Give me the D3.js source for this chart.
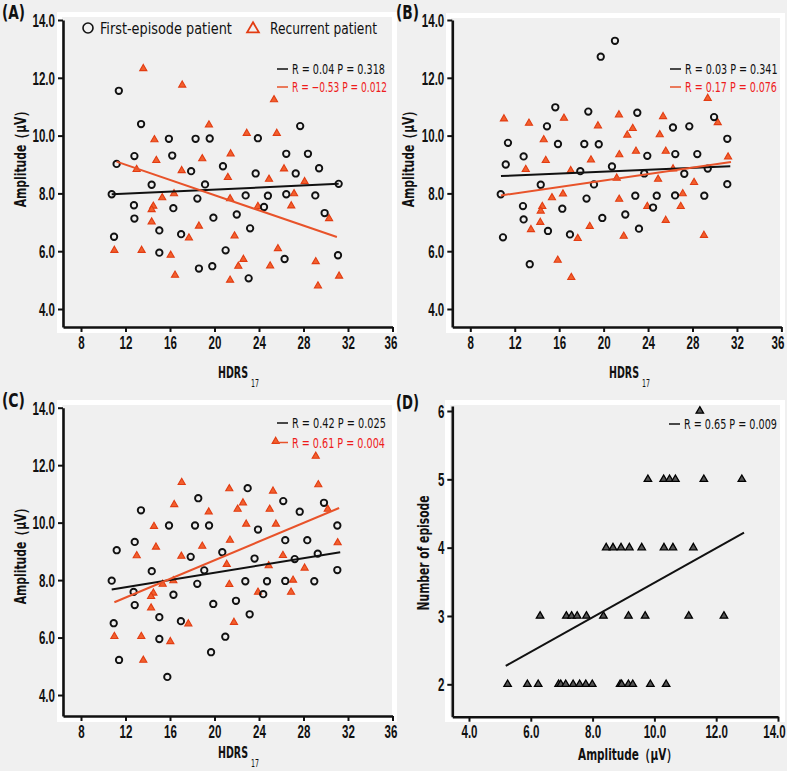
<!DOCTYPE html>
<html><head><meta charset="utf-8">
<script src="https://cdn.jsdelivr.net/npm/d3@7"></script>
<style>
body{margin:0;background:#f0f0f0;}
svg{display:block;font-family:"Liberation Sans Narrow","Arial Narrow","DejaVu Sans Condensed","DejaVu Sans",sans-serif;}
</style></head><body><svg id="c" width="787" height="771"></svg>
<script>
// ---------- data ----------
const hdrsTicks = [8, 12, 16, 20, 24, 28, 32, 36];
const ampTicks = [4, 6, 8, 10, 12, 14];
const ampTicksD = [4, 6, 8, 10, 12, 14];
const episodeTicks = [2, 3, 4, 5, 6];
const legendLabels = ["First-episode patient", "Recurrent patient"];

// Panel A: HDRS17 vs amplitude
const aFirst = [[11.4,11.55],[13.4,10.4],[15.9,9.89],[18.3,9.89],[12.8,9.29],[16.2,9.31],[11.2,9.02],[17.9,8.77],[14.35,8.3],[10.76,7.97],[27.7,10.33],[19.57,9.9],[23.9,9.91],[26.45,9.37],[28.4,9.37],[20.76,8.94],[23.7,8.69],[27.3,8.69],[29.4,8.87],[19.15,8.31],[31.16,8.33],[18.46,7.82],[22.8,7.93],[24.8,7.92],[26.45,7.97],[29.06,7.93],[12.76,7.59],[12.8,7.13],[10.97,6.5],[16.3,7.49],[15.04,6.72],[17.0,6.59],[15.04,5.95],[18.6,5.4],[24.45,7.53],[19.9,7.16],[22.0,7.27],[23.2,6.79],[29.9,7.32],[21.0,6.03],[26.3,5.73],[31.1,5.86],[19.8,5.48],[23.07,5.06]];
const aRecur = [[13.6,12.32],[17.1,11.75],[14.6,9.86],[14.77,9.14],[13.0,8.83],[17.05,8.79],[25.35,11.24],[19.5,10.37],[22.9,10.08],[25.6,10.08],[18.9,9.2],[21.45,9.37],[21.2,8.55],[24.9,8.49],[26.25,8.85],[28.1,8.41],[27.15,7.99],[15.3,7.85],[16.36,7.99],[14.5,7.56],[14.35,7.44],[14.35,7.01],[11.0,6.03],[13.45,6.03],[16.06,5.86],[16.45,5.17],[17.7,6.46],[18.6,6.87],[21.4,7.82],[23.9,7.55],[26.9,7.57],[30.3,7.13],[21.8,6.53],[25.7,6.09],[22.6,5.72],[22.14,5.48],[25.0,5.49],[29.1,5.64],[21.4,5.0],[31.2,5.14],[29.3,4.8]];
const aFitFirst = [[10.76,7.97],[31.16,8.33]];
const aFitRecur = [[11.2,9.1],[31.0,6.49]];
const aStats = ["R = 0.04  P = 0.318", "R = \u22120.53 P = 0.012"];

// Panel B
const bFirst = [[15.65,10.98],[18.62,10.83],[14.9,10.32],[11.39,9.75],[15.89,9.71],[18.26,9.71],[12.8,9.28],[11.19,9.0],[17.9,8.77],[14.34,8.3],[10.74,7.97],[18.46,7.82],[21.02,13.28],[19.74,12.73],[23.03,10.79],[29.94,10.64],[26.24,10.28],[27.71,10.32],[31.13,9.89],[19.56,9.7],[23.93,9.3],[26.45,9.36],[28.43,9.36],[20.75,8.93],[23.66,8.69],[27.26,8.68],[29.37,8.86],[19.13,8.31],[31.13,8.32],[22.85,7.92],[24.78,7.92],[26.43,7.93],[29.06,7.92],[12.74,7.56],[12.8,7.1],[10.94,6.48],[13.35,5.55],[16.28,7.47],[14.99,6.7],[16.97,6.58],[24.45,7.51],[19.88,7.15],[21.95,7.27],[23.18,6.78]];
const bRecur = [[11.03,10.58],[13.28,10.43],[16.43,10.6],[14.61,9.86],[14.79,9.14],[12.99,8.83],[17.04,8.79],[15.35,7.85],[16.34,7.98],[29.37,11.29],[21.38,10.72],[25.35,10.66],[19.49,10.34],[22.62,10.25],[22.13,10.02],[25.05,10.03],[30.27,10.45],[18.86,9.16],[21.41,9.34],[22.91,9.46],[25.59,9.46],[31.2,9.26],[21.18,8.53],[24.9,8.49],[28.14,8.38],[26.25,8.85],[27.12,7.99],[21.4,7.8],[14.48,7.55],[14.34,7.39],[14.3,7.0],[13.46,6.75],[15.87,5.69],[17.09,5.09],[17.67,6.44],[18.75,6.86],[23.93,7.55],[26.94,7.55],[25.59,7.07],[21.81,6.52],[29.03,6.55]];
const bFitFirst = [[10.76,8.6],[31.4,8.94]];
const bFitRecur = [[10.76,7.93],[31.46,9.09]];
const bStats = ["R = 0.03  P = 0.341", "R = 0.17  P = 0.076"];

// Panel C
const cFirst = [[13.39,10.43],[15.91,9.9],[18.25,9.9],[18.54,10.85],[12.83,9.33],[11.21,9.04],[17.86,8.81],[14.36,8.31],[10.76,7.98],[22.98,11.2],[26.18,10.75],[29.84,10.69],[27.66,10.38],[19.51,9.9],[23.91,9.76],[31.04,9.9],[26.36,9.39],[28.34,9.39],[20.7,8.97],[23.6,8.75],[27.21,8.73],[29.28,8.92],[19.08,8.34],[31.04,8.35],[18.45,7.87],[22.77,7.96],[24.72,7.96],[26.36,7.97],[28.97,7.96],[12.73,7.59],[12.83,7.13],[10.94,6.5],[11.42,5.22],[16.31,7.49],[15.04,6.71],[16.98,6.57],[15.04,5.95],[15.76,4.63],[19.89,7.17],[21.93,7.28],[23.16,6.81],[20.97,6.03],[19.69,5.49],[24.38,7.51]];
const cRecur = [[17.05,11.4],[16.38,10.63],[14.56,9.87],[14.74,9.15],[13.01,8.85],[17.02,8.83],[29.1,12.31],[29.33,11.32],[21.33,11.18],[25.26,11.1],[22.56,10.69],[22.08,10.47],[24.96,10.47],[19.48,10.37],[30.18,10.47],[22.85,9.95],[25.52,9.95],[18.9,9.18],[21.39,9.39],[31.07,9.3],[21.1,8.55],[24.87,8.5],[26.15,8.86],[28.1,8.42],[27.06,8.0],[21.33,7.85],[25.5,12.83],[15.34,7.86],[16.3,7.98],[14.51,7.55],[14.3,7.43],[14.3,7.03],[11.0,6.04],[13.42,6.04],[16.03,5.86],[13.6,5.21],[17.65,6.48],[23.91,7.58],[26.88,7.58],[21.75,6.53]];
const cFitFirst = [[10.76,7.67],[31.3,8.97]];
const cFitRecur = [[11.0,7.23],[31.2,10.51]];
const cStats = ["R = 0.42  P = 0.025", "R = 0.61  P = 0.004"];

// Panel D: amplitude vs number of episodes
const dPoints = [[5.25,2],[5.89,2],[6.24,2],[6.9,2],[6.97,2],[7.13,2],[7.37,2],[7.58,2],[7.78,2],[7.99,2],[8.89,2],[8.94,2],[9.16,2],[9.3,2],[9.87,2],[10.38,2],
  [6.3,3],[7.15,3],[7.32,3],[7.5,3],[7.8,3],[8.35,3],[9.16,3],[9.7,3],[11.11,3],[12.25,3],
  [8.44,4],[8.66,4],[8.92,4],[9.19,4],[9.59,4],[10.31,4],[10.6,4],[11.26,4],
  [9.79,5],[10.3,5],[10.49,5],[10.68,5],[11.6,5],[12.83,5],
  [11.47,6]];
const dFit = [[5.19,2.27],[12.9,4.22]];
const dStats = ["R = 0.65  P = 0.009"];

// ---------- drawing ----------
const svg = d3.select("#c");
svg.append("rect").attr("width",787).attr("height",771).attr("fill","#f0f0f0");
const BLACK = "#111", RED_LINE = "#e8532a", RED_TXT = "#ee1c1c", TRI_FILL = "#f2602e", TRI_STROKE = "#e23c12";
const FS = 15.5;
const TICK_FS = 17.5;

// measure the tick font so that "14.0" is ~22 px wide, like the reference
const probe = svg.append("text").attr("font-size",TICK_FS).attr("font-weight","bold").attr("font-family","sans-serif").text("14.0");
const TICK_F = 22.5 / probe.node().getComputedTextLength();
probe.remove();

// place a text at (x,y) and squeeze it horizontally to width w (rot: optional rotation)
function putText(x,y,w,txt,opts){
  opts = opts || {};
  const t = svg.append("text").attr("x",0).attr("y",0)
    .attr("font-size",opts.fs||FS).attr("fill",opts.fill||BLACK)
    .attr("font-weight",opts.bold?"bold":null)
    .attr("text-anchor",opts.anchor||"start").text(txt);
  if (opts.dy) t.attr("dy",opts.dy);
  const L = t.node().getComputedTextLength();
  const rot = opts.rot ? ` rotate(${opts.rot})` : "";
  t.attr("transform",`translate(${x},${y})${rot} scale(${w/L},1)`);
  return t;
}
function squeezeTicks(sel,f,xpos){
  sel.attr("x",xpos/f).attr("transform",`scale(${f},1)`);
}

function frame(x0,y0,x1,y1){
  svg.append("rect").attr("x",x0).attr("y",y0).attr("width",x1-x0).attr("height",y1-y0).attr("fill","#fff");
  svg.append("rect").attr("x",x0+5).attr("y",y0+5).attr("width",x1-x0-10).attr("height",y1-y0-11).attr("fill","#f0f0f0");
}

function axes(g, x, y, xt, yt, xfmt, yfmt, lastShift){
  const ax = g.append("g").attr("transform",`translate(0,${y.range()[0]})`)
    .call(d3.axisBottom(x).tickValues(xt).tickFormat(xfmt).tickSize(5).tickSizeOuter(0));
  const ay = g.append("g").attr("transform",`translate(${x.range()[0]},0)`)
    .call(d3.axisLeft(y).tickValues(yt).tickFormat(yfmt).tickSize(5).tickSizeOuter(0));
  [ax,ay].forEach(a=>{
    a.attr("font-size",TICK_FS).attr("font-family","sans-serif");
    a.select(".domain").attr("stroke",BLACK).attr("stroke-width",2.6);
    a.selectAll(".tick line").attr("stroke",BLACK).attr("stroke-width",2);
    a.selectAll(".tick text").attr("fill",BLACK).attr("font-size",TICK_FS).attr("font-weight","bold");
  });
  ax.selectAll(".tick text").attr("dy","0.95em").attr("y",5);
  ay.selectAll(".tick text").attr("dy","0.36em");
  const f = TICK_F;
  squeezeTicks(ax.selectAll(".tick text"),f,0);
  if (lastShift) ax.selectAll(".tick:last-of-type text").attr("x",lastShift/f);
  squeezeTicks(ay.selectAll(".tick text"),f,-8);
}

function circles(g,x,y,data){
  g.append("g").selectAll("circle").data(data).join("circle")
    .attr("cx",d=>x(d[0])).attr("cy",d=>y(d[1])).attr("r",3.2)
    .attr("fill","none").attr("stroke",BLACK).attr("stroke-width",1.9);
}
function triangles(g,x,y,data,fill,stroke,size,sw){
  const sym = d3.symbol(d3.symbolTriangle, size);
  g.append("g").selectAll("path").data(data).join("path")
    .attr("d",sym).attr("transform",d=>`translate(${x(d[0])},${y(d[1])})`)
    .attr("fill",fill).attr("stroke",stroke).attr("stroke-width",sw||1.1);
}
function fit(g,x,y,pts,color){
  g.append("line").attr("x1",x(pts[0][0])).attr("y1",y(pts[0][1]))
    .attr("x2",x(pts[1][0])).attr("y2",y(pts[1][1]))
    .attr("stroke",color).attr("stroke-width",2);
}
function stat(dx,yy,txt,color,lineColor,w){
  svg.append("line").attr("x1",dx).attr("x2",dx+11).attr("y1",yy).attr("y2",yy)
    .attr("stroke",lineColor).attr("stroke-width",1.5);
  putText(dx+15,yy+5,w,txt,{fs:14,fill:color});
}
function ytitle(cx,cy,txt,w){
  putText(cx,cy,w,txt,{fs:16,anchor:"middle",dy:"0.35em",rot:-90,bold:true});
}
function hdrs(x0,base){
  putText(x0,base,30,"HDRS",{fs:15.5,bold:true});
  putText(x0+33,base+9,8,"17",{fs:10});
}
function letter(x0,base,txt){
  putText(x0,base,23,txt,{fs:20,bold:true});
}

const f1 = d3.format(".1f");
const AMP = "Amplitude\uFF08\u03BCV\uFF09";

// ---- Panel A ----
frame(57,12,397,333);
{
  const x = d3.scaleLinear().domain([6.382,36]).range([63,392.5]);
  const y = d3.scaleLinear().domain([3.377,14]).range([327,20]);
  const g = svg.append("g");
  axes(g,x,y,hdrsTicks,ampTicks,d3.format("d"),f1,-2);
  triangles(g,x,y,aRecur,TRI_FILL,TRI_STROKE,22);
  circles(g,x,y,aFirst);
  fit(g,x,y,aFitFirst,BLACK);
  fit(g,x,y,aFitRecur,RED_LINE);
  stat(277,69,aStats[0],BLACK,BLACK,93);
  stat(277,87,aStats[1],RED_TXT,RED_LINE,95);
  // legend
  svg.append("circle").attr("cx",88).attr("cy",28).attr("r",5).attr("fill","none").attr("stroke",BLACK).attr("stroke-width",1.6);
  putText(100,33.5,132,legendLabels[0],{fs:15.5});
  svg.append("path").attr("d",d3.symbol(d3.symbolTriangle,60)()).attr("transform","translate(253,29)")
    .attr("fill","none").attr("stroke",TRI_STROKE).attr("stroke-width",1.8);
  putText(270,33.5,107,legendLabels[1],{fs:15.5});
  ytitle(20,156,AMP,103);
  hdrs(218,378);
}

// ---- Panel B ----
frame(446,13,785,333);
{
  const x = d3.scaleLinear().domain([6.38,36]).range([452.3,781.4]);
  const y = d3.scaleLinear().domain([3.377,14]).range([327,20]);
  const g = svg.append("g");
  axes(g,x,y,hdrsTicks,ampTicks,d3.format("d"),f1,-4);
  triangles(g,x,y,bRecur,TRI_FILL,TRI_STROKE,22);
  circles(g,x,y,bFirst);
  fit(g,x,y,bFitFirst,BLACK);
  fit(g,x,y,bFitRecur,RED_LINE);
  stat(670,69,bStats[0],BLACK,BLACK,92.5);
  stat(670,87,bStats[1],RED_TXT,RED_LINE,92);
  ytitle(408,156,AMP,103);
  hdrs(609,378);
}

// ---- Panel C ----
frame(57,400,397,722);
{
  const x = d3.scaleLinear().domain([6.382,36]).range([63,392.5]);
  const y = d3.scaleLinear().domain([3.27,14]).range([716,407.7]);
  const g = svg.append("g");
  axes(g,x,y,hdrsTicks,ampTicks,d3.format("d"),f1,-2);
  triangles(g,x,y,cRecur,TRI_FILL,TRI_STROKE,22);
  circles(g,x,y,cFirst);
  fit(g,x,y,cFitFirst,BLACK);
  fit(g,x,y,cFitRecur,RED_LINE);
  stat(277,423,cStats[0],BLACK,BLACK,94);
  stat(277,442.5,cStats[1],RED_TXT,RED_LINE,93);
  ytitle(20,553,AMP,103);
  hdrs(218,758);
}

// ---- Panel D ----
frame(445,400,785,722);
{
  const x = d3.scaleLinear().domain([3.46,14]).range([452.3,778]);
  const y = d3.scaleLinear().domain([1.526,6.073]).range([716.7,406]);
  const g = svg.append("g");
  axes(g,x,y,ampTicksD,episodeTicks,f1,d3.format("d"),-4);
  triangles(g,x,y,dPoints,"#555","#000",24,1.3);
  fit(g,x,y,dFit,BLACK);
  stat(669,424,dStats[0],BLACK,BLACK,93);
  ytitle(423,553,"Number of episode",115);
  putText(628,760,100,AMP,{fs:16,anchor:"middle",bold:true});
}

letter(2,19,"(A)");
letter(396,19,"(B)");
letter(2,407,"(C)");
letter(396,409,"(D)");
</script></body></html>
